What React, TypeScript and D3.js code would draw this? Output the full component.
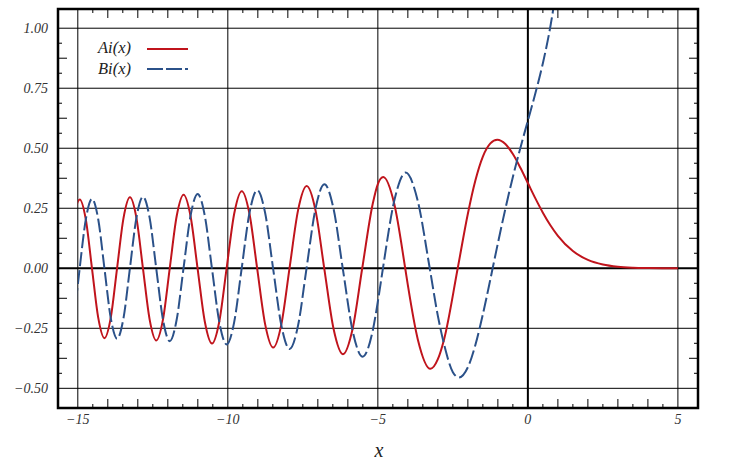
import React from "react";
import * as d3 from "d3";

// ---- Data (zeros, extrema, half-way points and other values) ----
const aiX = [
  -15.3408, -15.1384, -15.0, -14.9359, -14.7319, -14.5278, -14.3197, -14.1115, -13.9015, -13.6915,
  -13.4769, -13.2622, -13.0455, -12.8288, -12.6068, -12.3848, -12.1604, -11.936, -11.7056, -11.4751,
  -11.2418, -11.0085, -10.7681, -10.5277, -10.284, -10.0402, -9.7879, -9.5355, -9.2791, -9.0227,
  -8.7556, -8.4885, -8.2163, -7.9441, -7.6582, -7.3722, -7.0795, -6.7867, -6.475, -6.1633,
  -5.842, -5.5206, -5.1704, -5.0, -4.8201, -4.4541, -4.088, -4.0, -3.6681, -3.2482,
  -3.0, -2.7932, -2.3381, -2.0, -1.75, -1.5, -1.25, -1.0188, -0.75, -0.5,
  -0.25, 0, 0.25, 0.5, 0.75, 1.0, 1.5, 2.0, 2.5, 3.0,
  3.5, 4.0, 4.5, 5.0,
];
const aiY = [
  0, 0.2029, 0.278, 0.287, 0.2029, 0, -0.2058, -0.2911, -0.2058, 0,
  0.209, 0.2956, 0.209, 0, -0.2126, -0.3007, -0.2126, 0, 0.2167, 0.3065,
  0.2167, 0, -0.2215, -0.3132, -0.2215, 0, 0.2271, 0.3211, 0.2271, 0,
  -0.2337, -0.3305, -0.2337, 0, 0.2421, 0.3424, 0.2421, 0, -0.2532, -0.3581,
  -0.2532, 0, 0.2686, 0.3508, 0.3798, 0.2686, 0, -0.0703, -0.2963, -0.419,
  -0.3788, -0.2963, 0, 0.2274, 0.3655, 0.4653, 0.52, 0.5357, 0.5178, 0.4757,
  0.4187, 0.355, 0.2912, 0.2317, 0.1793, 0.1353, 0.0718, 0.0349, 0.0157, 0.0066,
  0.0026, 0.001, 0.0003, 0.0001,
];
const biX = [
  -15.3398, -15.1385, -15.0, -14.9371, -14.732, -14.5268, -14.3198, -14.1128, -13.9016, -13.6903,
  -13.477, -13.2636, -13.0455, -12.8274, -12.6069, -12.3864, -12.1604, -11.9344, -11.7057, -11.477,
  -11.2418, -11.0066, -10.7683, -10.5299, -10.2839, -10.0379, -9.7881, -9.5382, -9.279, -9.0198,
  -8.7559, -8.492, -8.2162, -7.9404, -7.6586, -7.3768, -7.0792, -6.7815, -6.4757, -6.1699,
  -5.8412, -5.5124, -5.1716, -5.0, -4.8307, -4.452, -4.0732, -3.6722, -3.2711, -3.0,
  -2.7828, -2.5, -2.2944, -2.0, -1.75, -1.5, -1.25, -1.1737, -1.0, -0.75,
  -0.5, -0.25, 0, 0.25, 0.5, 0.75, 1.0,
];
const biY = [
  -0.2851, -0.2016, -0.069, 0, 0.2044, 0.289, 0.2044, 0, -0.2074, -0.2933,
  -0.2074, 0, 0.2108, 0.2981, 0.2108, 0, -0.2146, -0.3035, -0.2146, 0,
  0.2191, 0.3098, 0.2191, 0, -0.2242, -0.317, -0.2242, 0, 0.2302, 0.3256,
  0.2302, 0, -0.2377, -0.3361, -0.2377, 0, 0.2472, 0.3496, 0.2472, 0,
  -0.2604, -0.3682, -0.2604, -0.1384, 0, 0.2818, 0.3985, 0.2818, 0, -0.1983,
  -0.3217, -0.4327, -0.4549, -0.4123, -0.3195, -0.1918, -0.0459, 0, 0.104, 0.2478,
  0.3804, 0.5014, 0.6149, 0.7288, 0.8543, 1.007, 1.2074,
];

const xGrid = [-15, -10, -5, 0, 5];
const yGrid = [-0.5, -0.25, 0, 0.25, 0.5, 0.75, 1.0];
const seriesNames = ["Ai(x)", "Bi(x)"];
const axisTitle = "x";
const plotRange = [-15, 5];

const W = 746;
const H = 464;
const L = 58, R = 698, T = 9, B = 408;
const RED = "#c0141c";
const BLUE = "#2b5189";
const FONT = "'Liberation Serif', 'DejaVu Serif', serif";

const fmtNum = (v: number, digits: number) => {
  const s = Math.abs(v).toFixed(digits);
  return v < 0 ? "\u2212" + s : s;
};

export default function App() {
  const x = d3.scaleLinear().domain([-15.66, 5.67]).range([L, R]);
  const y = d3.scaleLinear().domain([-0.582, 1.08]).range([B, T]);

  const line = d3
    .line<[number, number]>()
    .x((d) => x(d[0]))
    .y((d) => y(d[1]))
    .curve(d3.curveMonotoneX);

  const aiPts = aiX.map((v, i) => [v, aiY[i]] as [number, number]);
  const biPts = biX.map((v, i) => [v, biY[i]] as [number, number]);

  // minor ticks
  const xTicks = d3.range(-15, 5.001, 0.5).filter((v) => Math.abs(v % 5) > 1e-6);
  const yTicks = d3.range(-0.5, 1.0001, 0.0625).filter((v) => Math.abs(v / 0.25 - Math.round(v / 0.25)) > 1e-6);

  return (
    <svg
      width={W}
      height={H}
      style={{ position: "absolute", left: 0, top: 0, background: "#fff" }}
      fontFamily={FONT}
    >
      <defs>
        <clipPath id="plotClip">
          <rect x={x(plotRange[0])} y={T} width={x(plotRange[1]) - x(plotRange[0]) + 1} height={B - T} />
        </clipPath>
      </defs>
      <rect x={0} y={0} width={W} height={H} fill="#fff" />

      {/* grid */}
      {xGrid.map((v) => (
        <line key={"gx" + v} x1={x(v)} x2={x(v)} y1={T} y2={B} stroke="#000" strokeWidth={v === 0 ? 2 : 1} />
      ))}
      {yGrid.map((v) => (
        <line key={"gy" + v} x1={L} x2={R} y1={y(v)} y2={y(v)} stroke="#000" strokeWidth={v === 0 ? 2 : 1} />
      ))}

      {/* minor ticks */}
      {xTicks.map((v) => {
        const len = Math.abs(v - Math.round(v)) < 1e-6 ? 9 : 4;
        return (
          <g key={"xt" + v}>
            <line x1={x(v)} x2={x(v)} y1={B} y2={B - len} stroke="#000" strokeWidth={1} />
            <line x1={x(v)} x2={x(v)} y1={T} y2={T + len} stroke="#000" strokeWidth={1} />
          </g>
        );
      })}
      {yTicks.map((v) => {
        const len = Math.abs(v / 0.125 - Math.round(v / 0.125)) < 1e-6 ? 9 : 4;
        return (
          <g key={"yt" + v}>
            <line x1={L} x2={L + len} y1={y(v)} y2={y(v)} stroke="#000" strokeWidth={1} />
            <line x1={R} x2={R - len} y1={y(v)} y2={y(v)} stroke="#000" strokeWidth={1} />
          </g>
        );
      })}

      {/* curves */}
      <g clipPath="url(#plotClip)">
        <path d={line(aiPts) || ""} fill="none" stroke={RED} strokeWidth={2} />
        <path d={line(biPts) || ""} fill="none" stroke={BLUE} strokeWidth={2} strokeDasharray="14,4" />
      </g>

      {/* frame */}
      <rect x={L} y={T} width={R - L} height={B - T} fill="none" stroke="#000" strokeWidth={2.5} />

      {/* tick labels */}
      {yGrid.map((v) => (
        <text key={"yl" + v} x={48} y={y(v) + 5} textAnchor="end" fontSize={14} fontStyle="italic" fill="#333">
          {fmtNum(v, 2)}
        </text>
      ))}
      {xGrid.map((v) => (
        <text key={"xl" + v} x={x(v)} y={424} textAnchor="middle" fontSize={14} fontStyle="italic" fill="#333">
          {fmtNum(v, 0)}
        </text>
      ))}
      <text x={379} y={457} textAnchor="middle" fontSize={20} fontStyle="italic" fill="#222">
        {axisTitle}
      </text>

      {/* legend */}
      <text x={98} y={53} fontSize={16.5} fontStyle="italic" fill="#222">
        {seriesNames[0]}
      </text>
      <line x1={147} x2={188} y1={49} y2={49} stroke={RED} strokeWidth={2} />
      <text x={98} y={74} fontSize={16.5} fontStyle="italic" fill="#222">
        {seriesNames[1]}
      </text>
      <line x1={147} x2={188} y1={69} y2={69} stroke={BLUE} strokeWidth={2} strokeDasharray="16,3" />
    </svg>
  );
}
